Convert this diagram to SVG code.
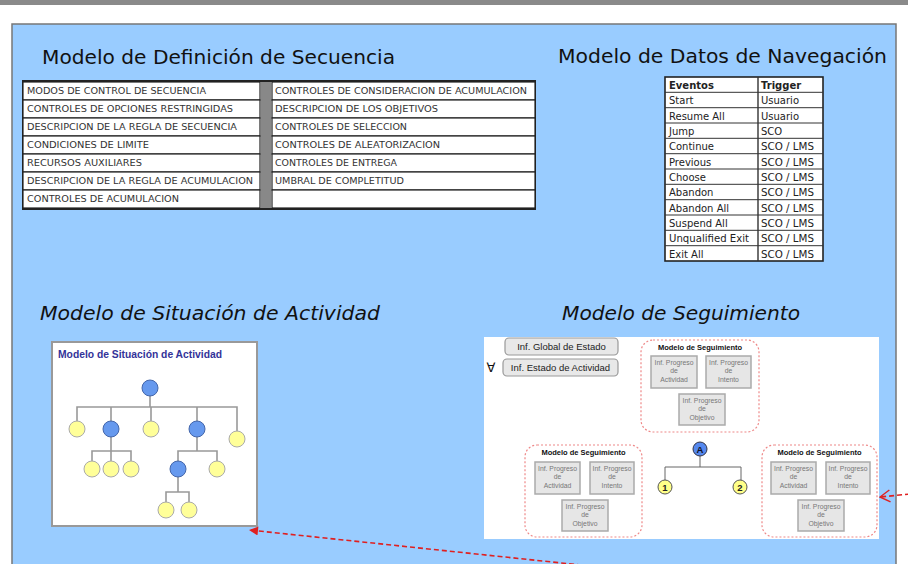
<svg xmlns="http://www.w3.org/2000/svg" width="908" height="564" viewBox="0 0 908 564">
<defs>
<style>
.title{font-family:"DejaVu Sans","Liberation Sans",sans-serif;font-size:20px;fill:#111}
.ital{font-style:italic}
.seq{font-family:"DejaVu Sans","Liberation Sans",sans-serif;font-size:8.5px;fill:#333}
.cell{fill:#fff;stroke:#222;stroke-width:1.2}
.nav{font-family:"DejaVu Sans","Liberation Sans",sans-serif;font-size:10px;fill:#222}
.navb{font-weight:bold}
.tl{stroke:#999;stroke-width:1.6;fill:none}
.bn{fill:#6699ee;stroke:#4466aa;stroke-width:1}
.yn{fill:#ffff99;stroke:#aaaaaa;stroke-width:1}
.btn{fill:#e8e8e8;stroke:#999;stroke-width:1.2}
.btnt{font-family:"Liberation Sans",Arial,sans-serif;font-size:9.5px;fill:#222;text-anchor:middle}
.grp{fill:none;stroke:#ee8888;stroke-width:1.2;stroke-dasharray:2 2}
.gt{font-family:"Liberation Sans",Arial,sans-serif;font-size:7.5px;font-weight:bold;fill:#111;text-anchor:middle}
.ib{fill:#e6e6e6;stroke:#aaa;stroke-width:1.5}
.it{font-family:"Liberation Sans",Arial,sans-serif;font-size:6.8px;fill:#777;text-anchor:middle}
.sl{stroke:#666;stroke-width:1;fill:none}
.arr{stroke:#e02020;stroke-width:1.6;fill:none;stroke-dasharray:5 3}
</style>
<marker id="fill" viewBox="0 0 10 10" refX="10" refY="5" markerWidth="11" markerHeight="9" markerUnits="userSpaceOnUse" orient="auto">
<path d="M0,0 L10,5 L0,10 z" fill="#e02020"/>
</marker>
<marker id="open" viewBox="0 0 12 14" refX="11" refY="7" markerWidth="12" markerHeight="14" markerUnits="userSpaceOnUse" orient="auto">
<path d="M1,1 L11,7 L1,13" fill="none" stroke="#e02020" stroke-width="1.4"/>
</marker>
</defs>

<rect x="0" y="0" width="908" height="564" fill="#ffffff"/>
<rect x="0" y="0" width="908" height="5" fill="#8a8a8a"/>
<rect x="12" y="24" width="884" height="560" fill="#99ccff" stroke="#777" stroke-width="1.5"/>

<text class="title" x="42" y="64" textLength="353" lengthAdjust="spacingAndGlyphs">Modelo de Definición de Secuencia</text>
<text class="title" x="558" y="63" textLength="329" lengthAdjust="spacingAndGlyphs">Modelo de Datos de Navegación</text>
<text class="title ital" x="40" y="320" textLength="340" lengthAdjust="spacingAndGlyphs">Modelo de Situación de Actividad</text>
<text class="title ital" x="562" y="320" textLength="238" lengthAdjust="spacingAndGlyphs">Modelo de Seguimiento</text>

<g id="secuencia">
<rect x="23" y="81" width="512" height="128" fill="#fff" stroke="#222" stroke-width="2"/>
<rect x="23" y="82" width="237" height="18" class="cell"/>
<rect x="23" y="100" width="237" height="18" class="cell"/>
<rect x="23" y="118" width="237" height="18" class="cell"/>
<rect x="23" y="136" width="237" height="18" class="cell"/>
<rect x="23" y="154" width="237" height="18" class="cell"/>
<rect x="23" y="172" width="237" height="18" class="cell"/>
<rect x="23" y="190" width="237" height="18" class="cell"/>
<rect x="261" y="82" width="10" height="126" fill="#888"/>
<rect x="272" y="82" width="263" height="18" class="cell"/>
<rect x="272" y="100" width="263" height="18" class="cell"/>
<rect x="272" y="118" width="263" height="18" class="cell"/>
<rect x="272" y="136" width="263" height="18" class="cell"/>
<rect x="272" y="154" width="263" height="18" class="cell"/>
<rect x="272" y="172" width="263" height="18" class="cell"/>
<rect x="272" y="190" width="263" height="18" class="cell"/>
<text class="seq" x="27" y="94" textLength="179" lengthAdjust="spacingAndGlyphs">MODOS DE CONTROL DE SECUENCIA</text>
<text class="seq" x="27" y="112" textLength="206" lengthAdjust="spacingAndGlyphs">CONTROLES DE OPCIONES RESTRINGIDAS</text>
<text class="seq" x="27" y="130" textLength="210" lengthAdjust="spacingAndGlyphs">DESCRIPCION DE LA REGLA DE SECUENCIA</text>
<text class="seq" x="27" y="148" textLength="122" lengthAdjust="spacingAndGlyphs">CONDICIONES DE LIMITE</text>
<text class="seq" x="27" y="166" textLength="115" lengthAdjust="spacingAndGlyphs">RECURSOS AUXILIARES</text>
<text class="seq" x="27" y="184" textLength="226" lengthAdjust="spacingAndGlyphs">DESCRIPCION DE LA REGLA DE ACUMULACION</text>
<text class="seq" x="27" y="202" textLength="152" lengthAdjust="spacingAndGlyphs">CONTROLES DE ACUMULACION</text>
<text class="seq" x="275" y="94" textLength="252" lengthAdjust="spacingAndGlyphs">CONTROLES DE CONSIDERACION DE ACUMULACION</text>
<text class="seq" x="275" y="112" textLength="163" lengthAdjust="spacingAndGlyphs">DESCRIPCION DE LOS OBJETIVOS</text>
<text class="seq" x="275" y="130" textLength="132" lengthAdjust="spacingAndGlyphs">CONTROLES DE SELECCION</text>
<text class="seq" x="275" y="148" textLength="165" lengthAdjust="spacingAndGlyphs">CONTROLES DE ALEATORIZACION</text>
<text class="seq" x="275" y="166" textLength="122" lengthAdjust="spacingAndGlyphs">CONTROLES DE ENTREGA</text>
<text class="seq" x="275" y="184" textLength="129" lengthAdjust="spacingAndGlyphs">UMBRAL DE COMPLETITUD</text>
</g>

<g id="navegacion">
<rect x="665" y="77" width="158" height="184" fill="#fff" stroke="#222" stroke-width="1.6"/>
<g stroke="#333" stroke-width="1">
<line x1="665" y1="92.3" x2="823" y2="92.3"/>
<line x1="665" y1="107.7" x2="823" y2="107.7"/>
<line x1="665" y1="123" x2="823" y2="123"/>
<line x1="665" y1="138.3" x2="823" y2="138.3"/>
<line x1="665" y1="153.7" x2="823" y2="153.7"/>
<line x1="665" y1="169" x2="823" y2="169"/>
<line x1="665" y1="184.3" x2="823" y2="184.3"/>
<line x1="665" y1="199.7" x2="823" y2="199.7"/>
<line x1="665" y1="215" x2="823" y2="215"/>
<line x1="665" y1="230.3" x2="823" y2="230.3"/>
<line x1="665" y1="245.7" x2="823" y2="245.7"/>
<line x1="758" y1="77" x2="758" y2="261" stroke-width="1.4"/>
</g>
<text class="nav navb" x="669" y="89">Eventos</text>
<text class="nav navb" x="761" y="89">Trigger</text>
<text class="nav" x="669" y="104.3">Start</text><text class="nav" x="761" y="104.3">Usuario</text>
<text class="nav" x="669" y="119.7">Resume All</text><text class="nav" x="761" y="119.7">Usuario</text>
<text class="nav" x="669" y="135">Jump</text><text class="nav" x="761" y="135">SCO</text>
<text class="nav" x="669" y="150.3">Continue</text><text class="nav" x="761" y="150.3" textLength="53" lengthAdjust="spacingAndGlyphs">SCO / LMS</text>
<text class="nav" x="669" y="165.7">Previous</text><text class="nav" x="761" y="165.7" textLength="53" lengthAdjust="spacingAndGlyphs">SCO / LMS</text>
<text class="nav" x="669" y="181">Choose</text><text class="nav" x="761" y="181" textLength="53" lengthAdjust="spacingAndGlyphs">SCO / LMS</text>
<text class="nav" x="669" y="196.3">Abandon</text><text class="nav" x="761" y="196.3" textLength="53" lengthAdjust="spacingAndGlyphs">SCO / LMS</text>
<text class="nav" x="669" y="211.7">Abandon All</text><text class="nav" x="761" y="211.7" textLength="53" lengthAdjust="spacingAndGlyphs">SCO / LMS</text>
<text class="nav" x="669" y="227">Suspend All</text><text class="nav" x="761" y="227" textLength="53" lengthAdjust="spacingAndGlyphs">SCO / LMS</text>
<text class="nav" x="669" y="242.3" textLength="80" lengthAdjust="spacingAndGlyphs">Unqualified Exit</text><text class="nav" x="761" y="242.3" textLength="53" lengthAdjust="spacingAndGlyphs">SCO / LMS</text>
<text class="nav" x="669" y="257.7">Exit All</text><text class="nav" x="761" y="257.7" textLength="53" lengthAdjust="spacingAndGlyphs">SCO / LMS</text>
</g>

<g id="situacion">
<rect x="52" y="342" width="205" height="184" fill="#fff" stroke="#999" stroke-width="2"/>
<text x="58" y="358" font-family="Liberation Sans, Arial, sans-serif" font-size="10px" font-weight="bold" fill="#333399" textLength="164" lengthAdjust="spacingAndGlyphs">Modelo de Situación de Actividad</text>
<path class="tl" d="M150,388 V407 M77,429 V407 H237 V439 M111,407 V451 M151,407 V429 M197,407 V451 M92,469 V451 H131 V469 M111,451 V469 M178,469 V451 H217 V469 M178,469 V492 M166,510 V492 H189 V510"/>
<circle class="bn" cx="150" cy="388" r="8"/>
<circle class="yn" cx="77" cy="429" r="8"/>
<circle class="bn" cx="111" cy="429" r="8"/>
<circle class="yn" cx="151" cy="429" r="8"/>
<circle class="bn" cx="197" cy="429" r="8"/>
<circle class="yn" cx="237" cy="439" r="8"/>
<circle class="yn" cx="92" cy="469" r="8"/>
<circle class="yn" cx="111" cy="469" r="8"/>
<circle class="yn" cx="131" cy="469" r="8"/>
<circle class="bn" cx="178" cy="469" r="8"/>
<circle class="yn" cx="217" cy="469" r="8"/>
<circle class="yn" cx="166" cy="510" r="8"/>
<circle class="yn" cx="189" cy="510" r="8"/>
</g>

<g id="seguimiento">
<rect x="484" y="337" width="395" height="202" fill="#fff"/>
<rect class="btn" x="505" y="338" width="113" height="17" rx="4"/>
<text class="btnt" x="561.5" y="350">Inf. Global de Estado</text>
<text x="491" y="372" font-family="DejaVu Sans, sans-serif" font-size="13px" fill="#111" text-anchor="middle">∀</text>
<rect class="btn" x="503" y="359" width="115" height="17" rx="4"/>
<text class="btnt" x="560.5" y="371">Inf. Estado de Actividad</text>

<g id="seg-top">
<rect class="grp" x="641" y="340" width="118" height="92" rx="12"/>
<text class="gt" x="700" y="350">Modelo de Seguimiento</text>
<rect class="ib" x="651" y="356" width="46" height="32"/>
<text class="it" x="674" y="365">Inf. Progreso</text><text class="it" x="674" y="373">de</text><text class="it" x="674" y="382">Actividad</text>
<rect class="ib" x="706" y="356" width="45" height="32"/>
<text class="it" x="728.5" y="365">Inf. Progreso</text><text class="it" x="728.5" y="373">de</text><text class="it" x="728.5" y="382">Intento</text>
<rect class="ib" x="679" y="394" width="46" height="31"/>
<text class="it" x="702" y="403">Inf. Progreso</text><text class="it" x="702" y="411">de</text><text class="it" x="702" y="420">Objetivo</text>
</g>

<g id="seg-left">
<rect class="grp" x="525" y="445" width="117" height="92" rx="12"/>
<text class="gt" x="583.5" y="455">Modelo de Seguimiento</text>
<rect class="ib" x="535" y="462" width="45" height="32"/>
<text class="it" x="557.5" y="471">Inf. Progreso</text><text class="it" x="557.5" y="479">de</text><text class="it" x="557.5" y="488">Actividad</text>
<rect class="ib" x="590" y="462" width="44" height="32"/>
<text class="it" x="612" y="471">Inf. Progreso</text><text class="it" x="612" y="479">de</text><text class="it" x="612" y="488">Intento</text>
<rect class="ib" x="562" y="500" width="46" height="31"/>
<text class="it" x="585" y="509">Inf. Progreso</text><text class="it" x="585" y="517">de</text><text class="it" x="585" y="526">Objetivo</text>
</g>

<g id="seg-right">
<rect class="grp" x="762" y="445" width="115" height="92" rx="12"/>
<text class="gt" x="819.5" y="455">Modelo de Seguimiento</text>
<rect class="ib" x="771" y="462" width="45" height="32"/>
<text class="it" x="793.5" y="471">Inf. Progreso</text><text class="it" x="793.5" y="479">de</text><text class="it" x="793.5" y="488">Actividad</text>
<rect class="ib" x="826" y="462" width="44" height="32"/>
<text class="it" x="848" y="471">Inf. Progreso</text><text class="it" x="848" y="479">de</text><text class="it" x="848" y="488">Intento</text>
<rect class="ib" x="798" y="500" width="46" height="31"/>
<text class="it" x="821" y="509">Inf. Progreso</text><text class="it" x="821" y="517">de</text><text class="it" x="821" y="526">Objetivo</text>
</g>

<g id="mini-tree">
<path class="sl" d="M700,456 V467 M665,480 V467 H741 V480"/>
<circle cx="700" cy="449" r="7" fill="#5588ee" stroke="#334" stroke-width="1"/>
<text x="700" y="452.5" font-family="Liberation Sans, Arial, sans-serif" font-size="9.5px" font-weight="bold" fill="#112" text-anchor="middle">A</text>
<circle cx="665" cy="487" r="7" fill="#ffff88" stroke="#555" stroke-width="1"/>
<text x="665" y="490.5" font-family="Liberation Sans, Arial, sans-serif" font-size="9.5px" font-weight="bold" fill="#222" text-anchor="middle">1</text>
<circle cx="740" cy="487" r="7" fill="#ffff88" stroke="#555" stroke-width="1"/>
<text x="740" y="490.5" font-family="Liberation Sans, Arial, sans-serif" font-size="9.5px" font-weight="bold" fill="#222" text-anchor="middle">2</text>
</g>
</g>

<g id="connectors">
<path class="arr" d="M590,566 L249,530" marker-end="url(#fill)"/>
<path class="arr" d="M910,494 L880,497" marker-end="url(#open)"/>
</g>
</svg>
